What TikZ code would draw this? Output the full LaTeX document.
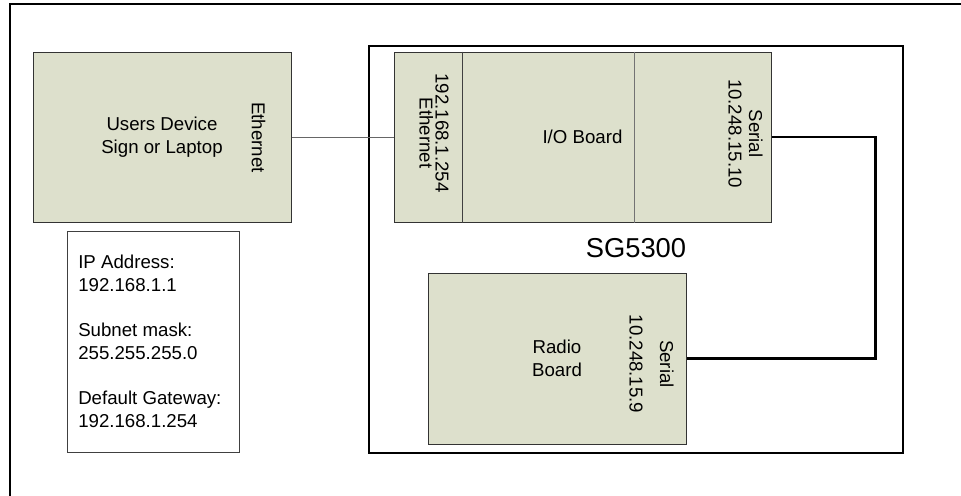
\documentclass[tikz,border=0pt]{standalone}
\usepackage{fontspec}
\setmainfont{Liberation Sans}
\usepackage{tikz}
\usetikzlibrary{positioning}

\definecolor{boardfill}{RGB}{221,224,204}
\newcommand{\px}[1]{#1*0.75pt}

\begin{document}
\begin{tikzpicture}[
  x=0.75pt, y=-0.75pt,
  font=\fontsize{14}{17}\selectfont,
  board/.style={draw=black!80, line width=0.75pt, fill=boardfill, align=center,
                inner sep=0pt},
  port/.style={rotate=-90, align=center, inner sep=0pt},
  infobox/.style={draw=black!75, line width=0.75pt, inner sep=0pt,
                  minimum width=\px{172}, minimum height=\px{221}},
  unit/.style={draw=black, line width=1.1pt, inner sep=0pt,
               minimum width=\px{534}, minimum height=\px{407}},
  link/.style={draw=black!60, line width=0.75pt},
  serial/.style={draw=black, line width=2pt},
  divider/.style={draw=black!75, line width=0.75pt},
]
\useasboundingbox (0,0) rectangle (961,496);
\clip (0,0) rectangle (961,496);

% outer frame, cut by the page edge
\draw[line width=1.5pt] (10,3.5) rectangle (990,520);

% SG5300 housing
\node[unit] (sg) at (636,249.3) {};
\node[inner sep=0pt, font=\fontsize{20.5}{24}\selectfont] (sglabel) at (636,248) {SG5300};

% users device
\node[board, minimum width=\px{258}, minimum height=\px{170}] (dev) at (162,137)
  {Users Device\\Sign or Laptop};
\node[port] (deveth) at (258.5,137.5) {Ethernet};

% settings of the users device
\node[infobox] (info) at (153.5,341.5) {};
\node[anchor=north west, align=left, inner sep=0pt,
      font=\fontsize{14}{17}\selectfont] (infotext) at (78,254.7)
  {IP Address:\\192.168.1.1\\[17pt]
   Subnet mask:\\255.255.255.0\\[17pt]
   Default Gateway:\\192.168.1.254};

% I/O board with its two port sections
\node[board, minimum width=\px{377}, minimum height=\px{170}] (io) at (582.5,137)
  {I/O Board};
\coordinate (ethsplit) at (462,0);
\coordinate (sersplit) at (634,0);
\draw[divider] (io.north -| ethsplit) -- (io.south -| ethsplit);
\draw[divider, draw=black!55] (io.north -| sersplit) -- (io.south -| sersplit);
\node[port, font=\fontsize{14}{12}\selectfont] (ioeth) at (434,133)
  {192.168.1.254\\Ethernet};
\node[port, font=\fontsize{14}{15.5}\selectfont] (ioser) at (745.5,133.5)
  {Serial\\10.248.15.10};

% radio board
\node[board, minimum width=\px{258}, minimum height=\px{171}] (radio) at (557,358.5)
  {Radio\\Board};
\node[port, font=\fontsize{14}{23}\selectfont] (radioser) at (651.5,364)
  {Serial\\10.248.15.9};

% connections
\draw[link] (dev.east) -- (io.west);
\draw[serial] (io.east) -- ++(104,0) |- (radio.east);

\end{tikzpicture}
\end{document}
